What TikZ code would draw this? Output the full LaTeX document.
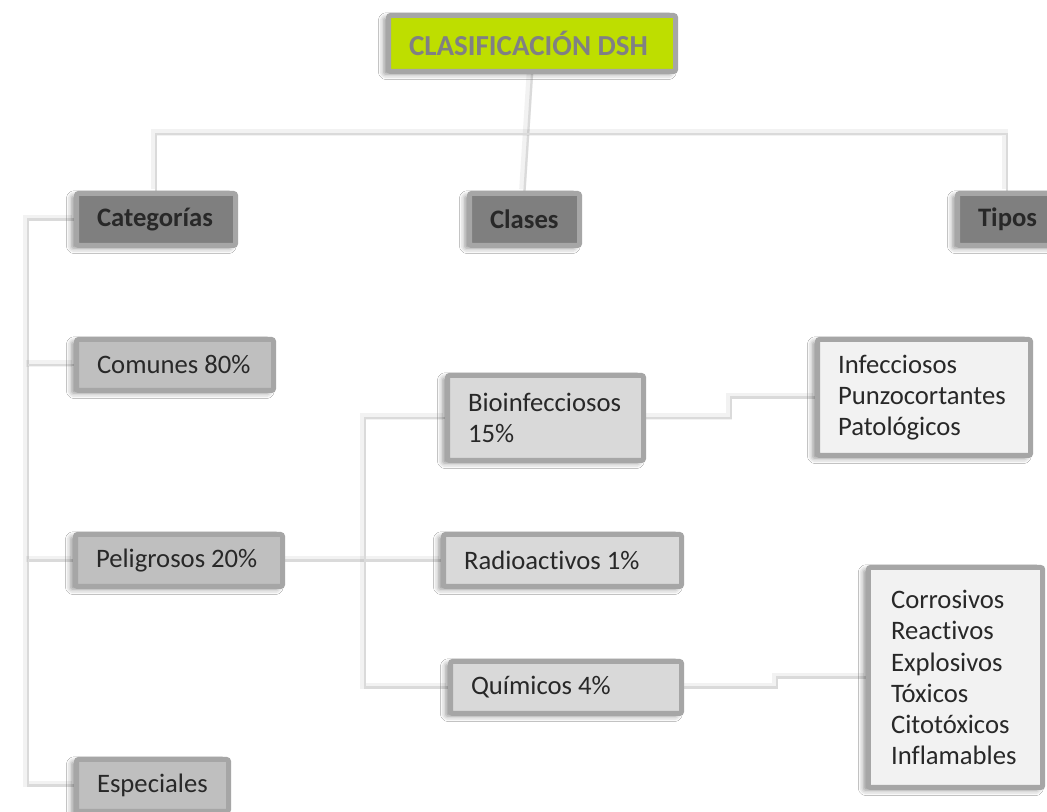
\documentclass[tikz,border=0pt]{standalone}
\usepackage{fontspec}
\setmainfont{Carlito}[Ligatures=NoCommon]
\usetikzlibrary{shadows.blur}

\definecolor{rim}{RGB}{166,166,166}
\definecolor{lime}{RGB}{190,222,0}
\definecolor{titletext}{RGB}{128,128,132}
\definecolor{darkfill}{RGB}{127,127,127}
\definecolor{midfill}{RGB}{191,191,191}
\definecolor{lightfill}{RGB}{217,217,217}
\definecolor{palefill}{RGB}{242,242,242}
\definecolor{ink}{RGB}{40,40,40}
\definecolor{linkc}{RGB}{218,218,218}

\pgfdeclarelayer{bg}
\pgfsetlayers{bg,main}

\tikzset{
  box/.style={draw=rim, line width=3.75pt, rounded corners=1.5pt,
    inner xsep=15.4pt, inner ysep=0pt, align=left, text=ink,
    font=\fontsize{20}{23.3}\selectfont,
    % keep the font's own interword space inside ragged boxes
    execute at begin node={\spaceskip=0pt\xspaceskip=0pt\relax},
    blur shadow={shadow xshift=-3.5pt, shadow yshift=-2pt,
      shadow blur radius=4pt, shadow opacity=45}},
  rowbox/.style={box, minimum height=39pt},
  titlebox/.style={box, fill=lime, minimum height=42pt, text=titletext,
    font=\fontsize{21.75}{25}\selectfont\bfseries},
  headbox/.style={rowbox, fill=darkfill, font=\fontsize{20}{23.3}\selectfont\bfseries},
  catbox/.style={rowbox, fill=midfill},
  classbox/.style={rowbox, fill=lightfill},
  typebox/.style={box, fill=palefill},
  linkshade/.style={draw=black, draw opacity=0.05, line width=5pt,
    transform canvas={shift={(-1.5pt,1.2pt)}}},
  link/.style={draw=linkc, line width=1.7pt}
}

\newcommand\connector[1]{%
  \draw[linkshade] #1;
  \draw[link] #1;
}

\begin{document}
\begin{tikzpicture}[x=0.75pt, y=-0.75pt]
  \useasboundingbox (0,0) rectangle (1047,812);

  % title
  \node[titlebox, text width=184.45pt] (title) at (532,43.5) {CLASIFICACIÓN DSH};

  % headings
  \node[headbox, text width=88.45pt] (cat) at (156,219.5) {Categorías};
  \node[headbox, text width=51.7pt] (cls) at (524.5,219.5) {Clases};
  \node[headbox, text width=43.45pt] (tip) at (1007,219.5) {Tipos};

  % categories
  \node[catbox, text width=116.95pt, minimum height=38.25pt] (com) at (175,365) {Comunes 80\%};
  \node[catbox, text width=124.45pt] (pel) at (179,560.5) {Peligrosos 20\%};
  \node[catbox, text width=83.2pt] (esp) at (152.5,785.5) {Especiales};

  % classes
  \node[classbox, text width=116.2pt, minimum height=63.75pt] (bio) at (545.5,418) {Bioinfecciosos\\15\%};
  \node[classbox, text width=147.7pt] (rad) at (562.5,560.5) {Radioactivos 1\%};
  \node[classbox, text width=142.45pt] (qui) at (566,687.5) {Químicos 4\%};

  % types
  \node[typebox, text width=128.95pt, minimum height=87pt] (inf) at (924,397.5)
    {Infecciosos\\Punzocortantes\\Patológicos};
  \node[typebox, text width=96.7pt, minimum height=165pt, inner xsep=17pt] (cor) at (955.5,677.5)
    {Corrosivos\\Reactivos\\Explosivos\\Tóxicos\\Citotóxicos\\Inflamables};

  % helper coordinates for the connector routes
  \coordinate (bar) at (0,134);
  \coordinate (trunkA) at (28,0);
  \coordinate (trunkB) at (365,0);
  \coordinate (stepA) at (731,0);
  \coordinate (stepB) at (777,0);

  \begin{pgfonlayer}{bg}
    \fill[white] (0,0) rectangle (1047,812);
    \connector{(title.south) -- (cls.north)}
    \connector{(cat.north) -- (cat.north |- bar) -- (tip.north |- bar) -- (tip.north)}
    \connector{(cat.west) -- (cat.west -| trunkA) |- (esp.west)}
    \connector{(trunkA |- com.west) -- (com.west)}
    \connector{(trunkA |- pel.west) -- (pel.west)}
    \connector{(pel.east) -- (rad.west)}
    \connector{(bio.west) -- (bio.west -| trunkB) |- (qui.west)}
    \connector{(bio.east) -- (bio.east -| stepA) |- (inf.west)}
    \connector{(qui.east) -- (qui.east -| stepB) |- (cor.west)}
  \end{pgfonlayer}
\end{tikzpicture}
\end{document}
